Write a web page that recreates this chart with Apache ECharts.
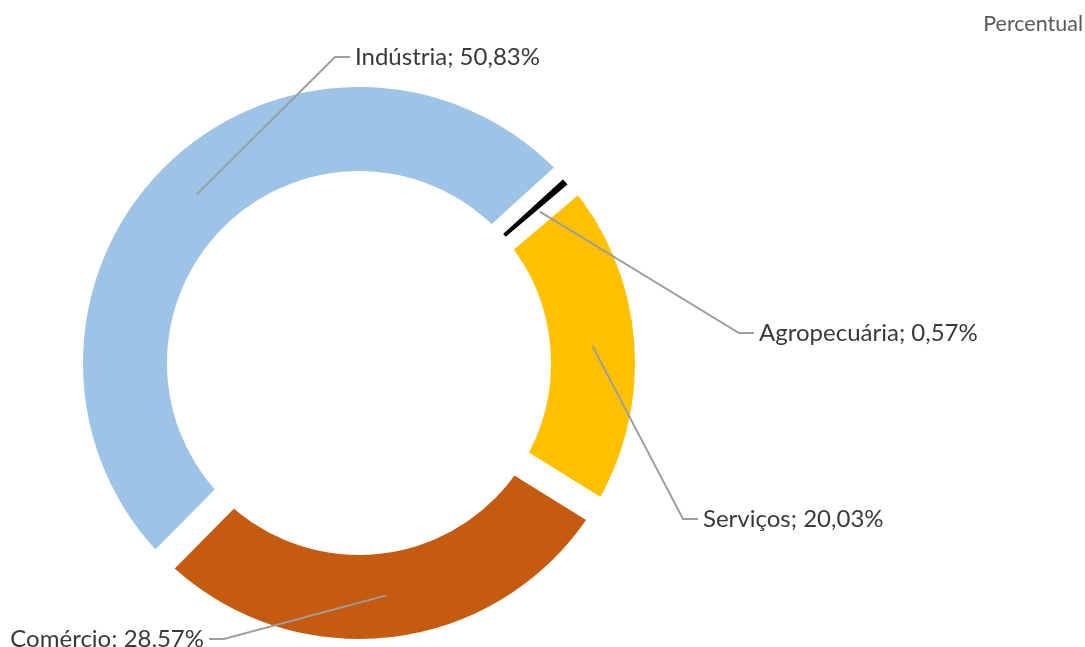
<!DOCTYPE html>
<html>
<head>
<meta charset="utf-8">
<script src="https://cdn.jsdelivr.net/npm/echarts@6/dist/echarts.min.js"></script>
<style>
  html, body { margin: 0; padding: 0; background: #ffffff; }
  #chart { width: 1085px; height: 647px; }
</style>
</head>
<body>
<div id="chart"></div>
<script>
// Sectors in clockwise order, starting just right of twelve o'clock
var categories = ['Agropecuária', 'Serviços', 'Comércio', 'Indústria'];
var shares = [0.57, 20.03, 28.57, 50.83];
var sliceColors = ['#000000', '#FFC000', '#C55A11', '#9DC3E6'];

// Ring geometry
var CX = 359, CY = 363;
var R_IN = 192, R_OUT = 276;
var GAP = 27;                 // white separator stroke between sectors
var START = 42.3;             // ECharts start angle (deg, CCW from 3 o'clock)

// Where each label's text sits, and on which side of it the leader line arrives
var labelSpots = [
  { x: 759, y: 333, side: 'left' },
  { x: 703, y: 519, side: 'left' },
  { x: 204, y: 639, side: 'right' },
  { x: 355, y: 57,  side: 'left' }
];

var total = shares.reduce(function (s, v) { return s + v; }, 0);
var midAngles = [];
(function () {
  var acc = 0;
  for (var i = 0; i < shares.length; i++) {
    var midDeg = START - (acc + shares[i] / 2) / total * 360;
    midAngles.push(midDeg * Math.PI / 180);
    acc += shares[i];
  }
})();

function fmt(v) { return v.toFixed(2).replace('.', ','); }

// Coloured ring; the wide white stroke opens the gaps between sectors
var ringData = categories.map(function (name, i) {
  return { name: name, value: shares[i], itemStyle: { color: sliceColors[i] } };
});

// Top layer: keeps the tiny sector visible and carries labels and leader lines
var topData = categories.map(function (name, i) {
  var small = shares[i] < 2;
  return {
    name: name,
    value: shares[i],
    itemStyle: small
      ? { color: sliceColors[i], borderColor: '#ffffff', borderWidth: 3 }
      : { color: 'transparent', borderWidth: 0 }
  };
});

var chart = echarts.init(document.getElementById('chart'), null, { renderer: 'canvas' });
var RMID = (R_IN + R_OUT) / 2;

chart.setOption({
  backgroundColor: '#ffffff',
  animation: false,
  title: {
    text: 'Percentual',
    right: -3,
    top: 8,
    textStyle: { fontFamily: 'Lato', fontSize: 21.5, fontWeight: 'normal', color: '#595959' }
  },
  series: [
    {
      type: 'pie',
      z: 2,
      center: [CX, CY],
      radius: [R_IN - GAP / 2, R_OUT + GAP / 2],
      startAngle: START,
      clockwise: true,
      silent: true,
      emphasis: { disabled: true },
      itemStyle: { borderColor: '#ffffff', borderWidth: GAP, borderJoin: 'miter' },
      label: { show: false },
      labelLine: { show: false },
      data: ringData
    },
    {
      type: 'pie',
      z: 3,
      center: [CX, CY],
      radius: [R_IN, R_OUT],
      startAngle: START,
      clockwise: true,
      silent: true,
      emphasis: { disabled: true },
      label: {
        show: true,
        position: 'outside',
        overflow: 'none',
        fontFamily: 'Lato',
        fontSize: 24,
        color: '#3a3a3a',
        formatter: function (p) { return p.name + '; ' + fmt(p.value) + '%'; }
      },
      labelLine: {
        show: true,
        lineStyle: { color: '#9E9E9E', width: 2 }
      },
      labelLayout: function (p) {
        var i = p.dataIndex;
        var spot = labelSpots[i];
        var a = midAngles[i];
        var sx = CX + RMID * Math.cos(a);
        var sy = CY - RMID * Math.sin(a);
        var dir = spot.side === 'left' ? -1 : 1;
        return {
          x: spot.x,
          y: spot.y,
          align: spot.side,
          verticalAlign: 'middle',
          labelLinePoints: [
            [sx, sy],
            [spot.x + dir * 20, spot.y],
            [spot.x + dir * 5, spot.y]
          ]
        };
      },
      data: topData
    }
  ]
});
</script>
</body>
</html>
